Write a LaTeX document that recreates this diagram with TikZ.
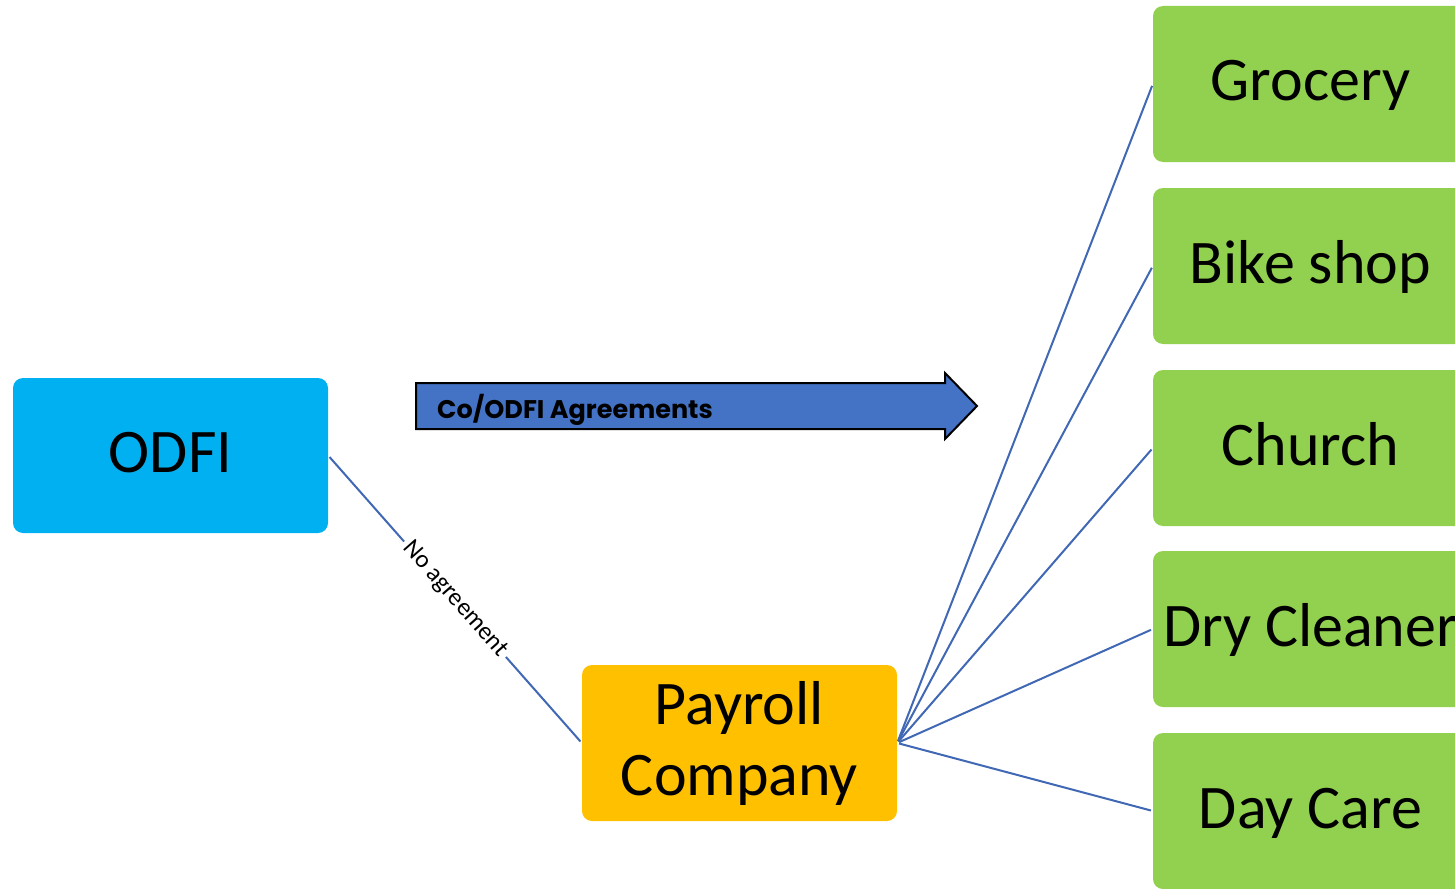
\documentclass[tikz,border=0pt]{standalone}
\usepackage{fontspec}
\setmainfont{Carlito}
\newfontfamily\arrowfont{Poppins}
\usetikzlibrary{positioning}
\definecolor{odfiblue}{HTML}{00B0F0}
\definecolor{payorange}{HTML}{FFC000}
\definecolor{bizgreen}{HTML}{92D050}
\definecolor{agreeblue}{HTML}{4472C4}
\definecolor{linkblue}{HTML}{4068B4}
\tikzset{
  box/.style={rounded corners=10pt, minimum width=315pt, inner sep=0pt,
    font=\fontsize{62}{71}\selectfont, align=center},
  oneline/.style={text height=40pt, text depth=6pt},
  link/.style={draw=linkblue, line width=2pt, shorten <=2pt, shorten >=2pt},
}
\begin{document}
\begin{tikzpicture}[x=1pt,y=-1pt]
  \clip (0,0) rectangle (1455,888);
  \fill[white] (0,0) rectangle (1455,888);

  % main parties
  \node[box, oneline, fill=odfiblue, minimum height=155pt] (odfi) at (170.5,455.5) {ODFI};
  \node[box, fill=payorange, minimum height=156pt] (payroll) at (739.5,743) {Payroll\\Company};

  % originators served by the payroll company
  \node[box, oneline, fill=bizgreen, minimum height=156pt] (grocery) at (1310.5,84)  {Grocery};
  \node[box, oneline, fill=bizgreen, minimum height=156pt] (bike)    at (1310.5,266) {Bike shop};
  \node[box, oneline, fill=bizgreen, minimum height=156pt] (church)  at (1310.5,448) {Church};
  \node[box, oneline, fill=bizgreen, minimum height=156pt] (dry)     at (1310.5,629) {Dry Cleaner};
  \node[box, oneline, fill=bizgreen, minimum height=156pt] (day)     at (1310.5,811) {Day Care};

  % block arrow for the company/ODFI agreements
  \draw[fill=agreeblue, draw=black, line width=2pt, line join=miter]
    (416,383) -- (945,383) -- (945,373) -- (977,406) -- (945,439) -- (945,429) -- (416,429) -- cycle;
  \node[anchor=west, inner sep=0pt, font=\arrowfont\bfseries\fontsize{25.5}{30}\selectfont] (agree) at (437,409.5) {Co/ODFI Agreements};

  % connectors
  \draw[link] (odfi.east) -- node[sloped, fill=white, inner sep=4pt, font=\fontsize{25}{28}\selectfont] (noagree) {No agreement} (payroll.west);
  \foreach \b in {grocery, bike, church, dry, day}
    \draw[link] (payroll.east) -- (\b.west);
\end{tikzpicture}
\end{document}
